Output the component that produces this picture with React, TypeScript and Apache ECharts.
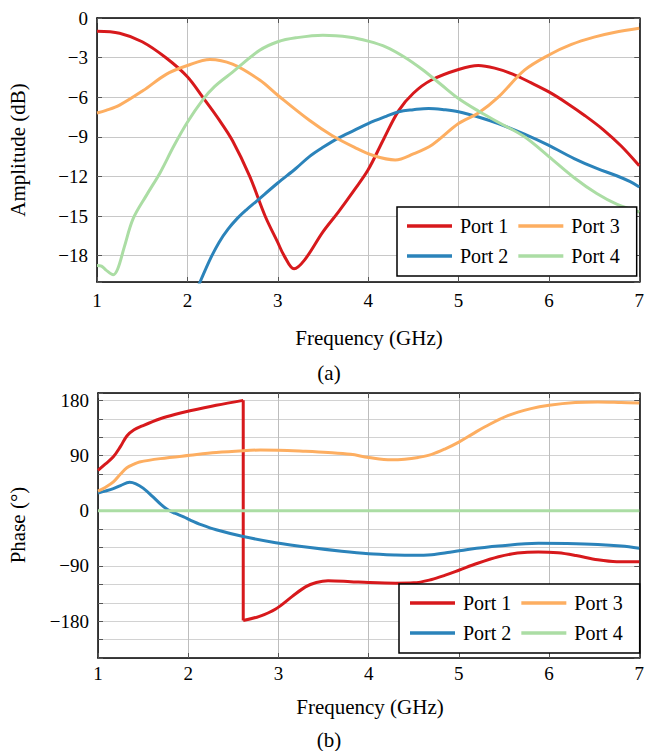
import React, { useEffect, useRef } from "react";
import * as echarts from "echarts";

// ---------- data ----------
const portNames = ["Port 1", "Port 2", "Port 3", "Port 4"];
const portColors = ["#d7191c", "#2b83ba", "#fdae61", "#abdda4"];
const freqTicks = [1, 2, 3, 4, 5, 6, 7];

// (a) Amplitude (dB)
const ampF1 = [1.0, 1.25, 1.5, 1.77, 2.0, 2.17, 2.35, 2.5, 2.69, 2.86, 3.0, 3.07, 3.18, 3.3, 3.5, 3.67, 3.85, 4.0, 4.17, 4.34, 4.5, 4.7, 5.0, 5.22, 5.4, 5.6, 5.8, 6.0, 6.2, 6.4, 6.6, 6.8, 7.0];
const ampV1 = [-1.0, -1.15, -1.8, -3.05, -4.45, -6.0, -7.7, -9.3, -12.0, -15.0, -17.0, -18.0, -19.0, -18.3, -16.2, -14.7, -13.0, -11.5, -9.2, -7.0, -5.7, -4.7, -3.9, -3.6, -3.8, -4.25, -4.9, -5.6, -6.45, -7.4, -8.45, -9.7, -11.2];

const ampF2 = [2.1, 2.14, 2.25, 2.35, 2.45, 2.55, 2.65, 2.77, 3.0, 3.2, 3.35, 3.5, 3.67, 3.85, 4.0, 4.2, 4.34, 4.5, 4.67, 4.85, 5.0, 5.22, 5.44, 5.73, 6.0, 6.28, 6.53, 6.75, 6.9, 7.0];
const ampV2 = [-20.6, -20.0, -18.3, -17.0, -16.0, -15.2, -14.55, -13.85, -12.5, -11.4, -10.5, -9.8, -9.1, -8.5, -8.0, -7.45, -7.1, -6.95, -6.85, -6.95, -7.1, -7.5, -8.0, -8.8, -9.65, -10.65, -11.4, -11.95, -12.4, -12.8];

const ampF3 = [1.0, 1.1, 1.25, 1.51, 1.77, 2.0, 2.25, 2.5, 2.8, 3.0, 3.35, 3.6, 3.85, 4.05, 4.3, 4.5, 4.71, 5.0, 5.22, 5.44, 5.73, 6.0, 6.25, 6.5, 6.72, 7.0];
const ampV3 = [-7.2, -7.0, -6.6, -5.5, -4.25, -3.6, -3.14, -3.5, -4.7, -5.85, -7.75, -8.9, -9.8, -10.4, -10.75, -10.3, -9.6, -8.0, -7.2, -6.0, -3.95, -2.8, -2.0, -1.45, -1.1, -0.78];

const ampF4 = [1.0, 1.05, 1.1, 1.18, 1.23, 1.3, 1.4, 1.55, 1.7, 1.85, 2.0, 2.17, 2.3, 2.5, 2.8, 3.0, 3.2, 3.5, 3.8, 4.0, 4.2, 4.4, 4.6, 4.8, 5.0, 5.22, 5.44, 5.73, 6.0, 6.28, 6.53, 6.75, 7.0];
const ampV4 = [-18.75, -18.8, -19.1, -19.45, -19.0, -17.4, -15.2, -13.4, -11.7, -9.7, -7.9, -6.2, -5.2, -4.1, -2.45, -1.8, -1.5, -1.3, -1.45, -1.75, -2.2, -2.95, -3.9, -5.0, -6.1, -7.05, -7.9, -9.0, -10.5, -12.1, -13.3, -14.1, -14.7];

const ampYTicks = [0, -3, -6, -9, -12, -15, -18];

// (b) Phase (deg); Port 1 wraps at +/-180
const phF1a = [1.0, 1.08, 1.17, 1.25, 1.32, 1.4, 1.5, 1.69, 1.85, 2.02, 2.31, 2.61];
const phV1a = [66, 76, 88, 105, 122, 132, 139, 150, 157, 163, 172, 180];
const phF1b = [2.61, 2.79, 2.97, 3.15, 3.3, 3.42, 3.55, 3.8, 4.0, 4.3, 4.5, 4.7, 4.85, 5.0, 5.2, 5.44, 5.65, 5.88, 6.1, 6.3, 6.54, 6.75, 7.0];
const phV1b = [-179, -172, -160, -140, -124, -117, -114, -115.5, -117, -118, -117.5, -112, -105, -97, -86, -75, -69, -67, -68.5, -73, -80, -83, -83];

const phF2 = [1.0, 1.08, 1.17, 1.25, 1.35, 1.42, 1.5, 1.6, 1.7, 1.77, 1.85, 1.95, 2.02, 2.15, 2.31, 2.61, 2.97, 3.35, 3.7, 4.0, 4.3, 4.5, 4.7, 4.9, 5.1, 5.44, 5.88, 6.2, 6.54, 6.8, 7.0];
const phV2 = [29, 32, 36, 41, 46.5, 44, 37, 24, 10, 2, -4, -10, -15, -23, -31, -42, -52, -60, -66, -70, -72, -72.5, -71.5, -67.5, -63, -57.5, -53, -53.5, -55, -57.5, -61];

const phF3 = [1.0, 1.08, 1.17, 1.25, 1.32, 1.4, 1.46, 1.69, 2.02, 2.31, 2.61, 2.8, 3.0, 3.3, 3.55, 3.8, 4.0, 4.25, 4.4, 4.55, 4.7, 4.85, 5.0, 5.15, 5.29, 5.55, 5.8, 6.0, 6.29, 6.54, 6.8, 7.0];
const phV3 = [32, 38, 47, 60, 70, 76, 79.5, 85, 90.5, 95, 98, 99, 98.8, 97, 95, 92, 87, 83, 84, 87, 92, 101, 112, 125, 137, 155.5, 166.5, 172, 176.5, 177.5, 176.5, 175.5];

const phF4 = [1.0, 7.0];
const phV4 = [0, 0];

const phYTicks = [180, 90, 0, -90, -180];

// ---------- helpers ----------
const FONT = "Liberation Serif";
const minus = (v: number) => (v < 0 ? "\u2212" + Math.abs(v) : String(v));
const pairs = (f: number[], v: number[], sign = 1) => f.map((x, i) => [x, sign * v[i]]);

function lineSeries(name: string, data: number[][], xi: number, yi: number, smooth: number | boolean) {
  const color = portColors[portNames.indexOf(name)];
  return {
    type: "line",
    name,
    data,
    xAxisIndex: xi,
    yAxisIndex: yi,
    smooth,
    symbol: "none",
    showSymbol: false,
    clip: true,
    lineStyle: { color, width: 3 },
    itemStyle: { color },
    emphasis: { disabled: true },
  };
}

function xAxes(gridIndex: number, vColor: string, margin: number) {
  const common = {
    type: "value",
    gridIndex,
    min: 1,
    max: 7,
    interval: 1,
    axisLine: { show: true, onZero: false, lineStyle: { color: "#000", width: 1.5 } },
    axisTick: { show: true, inside: true, length: 5, lineStyle: { color: "#555", width: 1 } },
  };
  return [
    {
      ...common,
      position: "bottom",
      axisLabel: {
        show: true,
        color: "#000",
        fontFamily: FONT,
        fontSize: 19,
        margin,
        formatter: (v: number) => (freqTicks.includes(v) ? String(v) : ""),
      },
      splitLine: { show: true, lineStyle: { color: vColor, width: 1 } },
    },
    {
      ...common,
      position: "top",
      axisLabel: { show: false },
      splitLine: { show: false },
    },
  ];
}

function yAxes(gridIndex: number, extra: any, hColor: string, fmt: (v: number) => string) {
  const common = {
    type: "value",
    gridIndex,
    ...extra,
    axisLine: { show: true, onZero: false, lineStyle: { color: "#000", width: 1.5 } },
    axisTick: { show: true, inside: true, length: 5, lineStyle: { color: "#555", width: 1 } },
  };
  return [
    {
      ...common,
      position: "left",
      axisLabel: { show: true, color: "#000", fontFamily: FONT, fontSize: 19, margin: 9, formatter: fmt },
      splitLine: { show: true, lineStyle: { color: hColor, width: 1 } },
    },
    {
      ...common,
      position: "right",
      axisLabel: { show: false },
      splitLine: { show: false },
    },
  ];
}

function legend(left: number, top: number, padLeft: number) {
  return {
    left,
    top,
    orient: "horizontal",
    width: 230,
    data: ["Port 1", "Port 3", "Port 2", "Port 4"],
    icon: "rect",
    itemWidth: 45,
    itemHeight: 3.5,
    itemGap: 10,
    padding: [9, 17, 10, padLeft],
    borderColor: "#000",
    borderWidth: 1.5,
    borderRadius: 0,
    backgroundColor: "#fff",
    selectedMode: false,
    textStyle: { color: "#000", fontFamily: FONT, fontSize: 20, padding: [0, 0, 0, 3] },
  };
}

function textEl(text: string, x: number, y: number, size: number, rotation = 0) {
  return {
    type: "text",
    x,
    y,
    rotation,
    silent: true,
    style: {
      text,
      fill: "#000",
      fontFamily: FONT,
      fontSize: size,
      textAlign: "center",
      textVerticalAlign: "middle",
    },
  };
}

export default function App() {
  const ref = useRef<HTMLDivElement>(null);

  useEffect(() => {
    if (!ref.current) return;
    const chart = echarts.init(ref.current, undefined, { renderer: "svg" });

    const ampFmt = (v: number) => (ampYTicks.includes(-v) ? minus(-v) : "");
    const phFmt = (v: number) => (phYTicks.includes(v) ? minus(v) : "");

    const option: any = {
      animation: false,
      backgroundColor: "#fff",
      textStyle: { fontFamily: FONT },
      grid: [
        { left: 97, top: 18, width: 545, height: 264, containLabel: false },
        { left: 98, top: 393, width: 545, height: 265, containLabel: false },
      ],
      xAxis: [...xAxes(0, "#c2c2c2", 9), ...xAxes(1, "#bdbdbd", 6)],
      yAxis: [
        // amplitude drawn on an inverted axis of -dB, so ticks start at 0
        ...yAxes(0, { min: 0, max: 20, interval: 3, inverse: true }, "#c8c8c8", ampFmt),
        ...yAxes(1, { min: -240, max: 192, interval: 30 }, "#d2d2d2", phFmt),
      ],
      legend: [legend(397, 207, 10), legend(399, 584, 11)],
      series: [
        lineSeries("Port 1", pairs(ampF1, ampV1, -1), 0, 0, 0.35),
        lineSeries("Port 2", pairs(ampF2, ampV2, -1), 0, 0, 0.35),
        lineSeries("Port 3", pairs(ampF3, ampV3, -1), 0, 0, 0.35),
        lineSeries("Port 4", pairs(ampF4, ampV4, -1), 0, 0, 0.35),
        lineSeries("Port 1", pairs(phF1a, phV1a), 2, 2, 0.35),
        lineSeries(
          "Port 1",
          [
            [phF1a[phF1a.length - 1], phV1a[phV1a.length - 1]],
            [phF1b[0], phV1b[0]],
          ],
          2,
          2,
          false
        ),
        lineSeries("Port 1", pairs(phF1b, phV1b), 2, 2, 0.35),
        lineSeries("Port 2", pairs(phF2, phV2), 2, 2, 0.35),
        lineSeries("Port 3", pairs(phF3, phV3), 2, 2, 0.35),
        lineSeries("Port 4", pairs(phF4, phV4), 2, 2, false),
      ],
      graphic: [
        textEl("Amplitude (dB)", 18, 150, 21, Math.PI / 2),
        textEl("Frequency (GHz)", 369, 338, 21),
        textEl("(a)", 329, 373, 21),
        textEl("Phase (\u00B0)", 18, 525, 21, Math.PI / 2),
        textEl("Frequency (GHz)", 370, 707, 21),
        textEl("(b)", 329, 740, 21),
      ],
    };

    chart.setOption(option);
    return () => chart.dispose();
  }, []);

  return (
    <div
      ref={ref}
      style={{ position: "fixed", left: 0, top: 0, width: 647, height: 751, background: "#fff" }}
    />
  );
}
